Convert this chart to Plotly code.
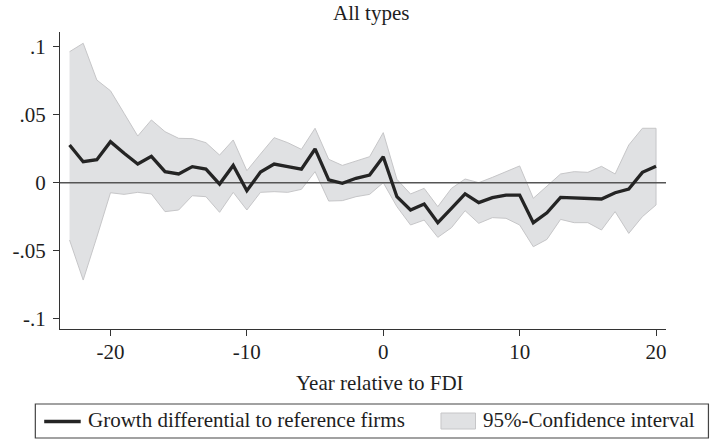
import plotly.graph_objects as go

# ---------------- data ----------------
years = list(range(-23, 21))

estimate = [0.0277, 0.0154, 0.0169, 0.0301, 0.0216, 0.0137, 0.0194, 0.0081, 0.0064, 0.0118,
            0.0100, -0.0010, 0.0127, -0.0059, 0.0078, 0.0137, 0.0118, 0.0100, 0.0248, 0.0020,
            -0.0005, 0.0032, 0.0056, 0.0191, -0.0103, -0.0201, -0.0157, -0.0294, -0.0189, -0.0083,
            -0.0147, -0.0110, -0.0091, -0.0091, -0.0294, -0.0221, -0.0108, -0.0110, -0.0113, -0.0120,
            -0.0074, -0.0047, 0.0076, 0.0120]

ci_upper = [0.0963, 0.1025, 0.0755, 0.0676, 0.0510, 0.0343, 0.0461, 0.0375, 0.0326, 0.0324,
            0.0294, 0.0203, 0.0314, 0.0088, 0.0211, 0.0331, 0.0294, 0.0245, 0.0400, 0.0172,
            0.0127, 0.0159, 0.0191, 0.0368, 0.0025, -0.0083, -0.0042, -0.0176, -0.0042, 0.0027,
            0.0000, 0.0039, 0.0081, 0.0123, -0.0115, -0.0029, 0.0064, 0.0081, 0.0076, 0.0120,
            0.0064, 0.0277, 0.0400, 0.0400]

ci_lower = [-0.0422, -0.0716, -0.0400, -0.0074, -0.0086, -0.0071, -0.0083, -0.0213, -0.0201, -0.0096,
            -0.0103, -0.0218, -0.0071, -0.0201, -0.0071, -0.0066, -0.0071, -0.0049, 0.0081, -0.0135,
            -0.0132, -0.0103, -0.0086, 0.0000, -0.0176, -0.0311, -0.0275, -0.0402, -0.0331, -0.0206,
            -0.0299, -0.0257, -0.0262, -0.0311, -0.0471, -0.0417, -0.0270, -0.0294, -0.0294, -0.0348,
            -0.0213, -0.0373, -0.0250, -0.0164]

x_ticks = [-20, -10, 0, 10, 20]
y_ticks = [0.1, 0.05, 0, -0.05, -0.1]
y_ticklabels = [".1", ".05", "0", "-.05", "-.1"]

title_text = "All types"
xaxis_title = "Year relative to FDI"
legend_line_label = "Growth differential to reference firms"
legend_ci_label = "95%-Confidence interval"

# ---------------- layout geometry ----------------
W, H = 713, 440
ML, MR, MT, MB = 52, 47, 32, 111
PW, PH = W - ML - MR, H - MT - MB
x_range = [-23.70, 20.73]
y_range = [-0.1076, 0.1108]

FONT = "Liberation Serif, Times New Roman, serif"
FS = 21
TXT = "#1e1e1e"
CI_FILL = "#e0e1e3"
CI_EDGE = "#c6c6c8"
LINE_COL = "#242424"
AXIS_COL = "#333333"


def px_x(px):
    return (px - ML) / PW


def px_y(py):
    return (H - MB - py) / PH


fig = go.Figure()

# confidence band
fig.add_trace(go.Scatter(
    x=years + years[::-1],
    y=ci_upper + ci_lower[::-1],
    fill="toself", fillcolor=CI_FILL,
    line=dict(color=CI_EDGE, width=1),
    mode="lines", hoverinfo="skip", showlegend=False,
))

# zero reference line
fig.add_trace(go.Scatter(
    x=x_range, y=[0, 0], mode="lines",
    line=dict(color="#555555", width=1.6),
    hoverinfo="skip", showlegend=False, cliponaxis=False,
))

# estimate
fig.add_trace(go.Scatter(
    x=years, y=estimate, mode="lines",
    line=dict(color=LINE_COL, width=3.3),
    showlegend=False,
))

fig.update_layout(
    width=W, height=H,
    margin=dict(l=ML, r=MR, t=MT, b=MB, pad=0),
    paper_bgcolor="white", plot_bgcolor="white",
    font=dict(family=FONT, size=FS, color=TXT),
    showlegend=False,
    xaxis=dict(
        range=x_range, tickvals=x_ticks, ticktext=[str(v) for v in x_ticks],
        showgrid=False, zeroline=False,
        showline=True, linecolor=AXIS_COL, linewidth=1.3,
        ticks="outside", ticklen=6, tickcolor=AXIS_COL, tickwidth=1.3,
        ticklabelstandoff=-2,
        tickfont=dict(family=FONT, size=FS, color=TXT),
    ),
    yaxis=dict(
        range=y_range, tickvals=y_ticks, ticktext=y_ticklabels,
        showgrid=False, zeroline=False,
        showline=True, linecolor=AXIS_COL, linewidth=1.3,
        ticks="outside", ticklen=6, tickcolor=AXIS_COL, tickwidth=1.3,
        ticklabelstandoff=3,
        tickfont=dict(family=FONT, size=FS, color=TXT),
    ),
)

annotations = [
    dict(text=title_text, x=px_x(367), y=px_y(13), xref="paper", yref="paper",
         xanchor="center", yanchor="middle", showarrow=False,
         font=dict(family=FONT, size=FS, color=TXT)),
    dict(text=xaxis_title, x=px_x(376), y=px_y(383), xref="paper", yref="paper",
         xanchor="center", yanchor="middle", showarrow=False,
         font=dict(family=FONT, size=FS, color=TXT)),
    dict(text=legend_line_label, x=px_x(78), y=px_y(420), xref="paper", yref="paper",
         xanchor="left", yanchor="middle", showarrow=False,
         font=dict(family=FONT, size=FS, color=TXT)),
    dict(text=legend_ci_label, x=px_x(479), y=px_y(420), xref="paper", yref="paper",
         xanchor="left", yanchor="middle", showarrow=False,
         font=dict(family=FONT, size=FS, color=TXT)),
]

shapes = [
    # legend frame
    dict(type="rect", xref="paper", yref="paper",
         x0=px_x(27), x1=px_x(709), y0=px_y(404), y1=px_y(438),
         line=dict(color="#444444", width=1.2), fillcolor="rgba(0,0,0,0)"),
    # legend line key
    dict(type="line", xref="paper", yref="paper",
         x0=px_x(36), x1=px_x(73), y0=px_y(421.5), y1=px_y(421.5),
         line=dict(color=LINE_COL, width=3.3)),
    # legend band key
    dict(type="rect", xref="paper", yref="paper",
         x0=px_x(438), x1=px_x(473), y0=px_y(413), y1=px_y(429),
         line=dict(color=CI_EDGE, width=1), fillcolor=CI_FILL),
]

fig.update_layout(annotations=annotations, shapes=shapes)

fig.write_html(
    "out.html",
    config={"displayModeBar": False},
    post_script="document.body.style.margin='0';document.body.style.overflow='hidden';",
)
